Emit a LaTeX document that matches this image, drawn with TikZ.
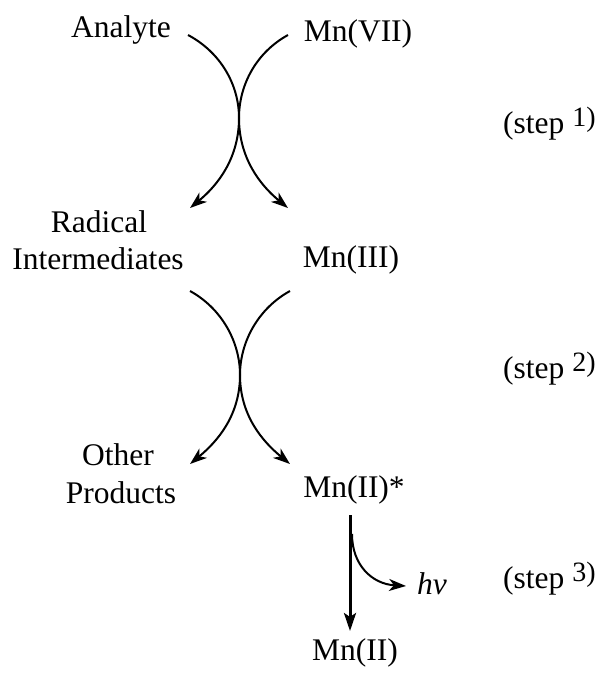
\documentclass[tikz,border=0pt]{standalone}
\usepackage{fontspec}
\setmainfont{Liberation Serif}
\newfontfamily\lserif{Liberation Serif}
\usetikzlibrary{arrows.meta}
\begin{document}
\begin{tikzpicture}[x=1pt,y=-1pt,
  lbl/.style={font=\lserif\fontsize{31.5}{36}\selectfont, inner sep=0pt, anchor=base},
  steplbl/.style={font=\lserif\fontsize{31.5}{36}\selectfont, inner sep=0pt, anchor=base west},
  rxn/.style={line width=2pt, -{Stealth[length=17pt,width=12pt,inset=5pt]}},
  vert/.style={line width=3pt, -{Stealth[length=18pt,width=12pt,inset=4pt]}}
]
\useasboundingbox (0,0) rectangle (601,675);
% species
\node[lbl] (analyte) at (121,37) {Analyte};
\node[lbl] (mn7) at (358,41) {Mn(VII)};
\node[lbl] (radical) at (99,232) {Radical};
\node[lbl] (inter) at (98,269) {Intermediates};
\node[lbl] (mn3) at (351,267) {Mn(III)};
\node[lbl] (other) at (118,465) {Other};
\node[lbl] (products) at (121,503) {Products};
\node[lbl] (mn2s) at (354,497) {Mn(II)*};
\node[lbl] (mn2) at (355,660) {Mn(II)};
\node[steplbl] (hv) at (417,594) {\itshape hv};
% step labels
\newcommand\stepsup[1]{\raisebox{7pt}{\fontsize{28}{30}\selectfont #1)}}
\node[steplbl] (s1) at (503,133) {(step \stepsup{1}};
\node[steplbl] (s2) at (503,378) {(step \stepsup{2}};
\node[steplbl] (s3) at (503,588) {(step \stepsup{3}};
% step 1 curves
\coordinate (a1) at (188,35);
\coordinate (a2) at (288,35);
\coordinate (x1) at (239,118);
\coordinate (b1) at (190,208);
\coordinate (b2) at (288,208);
\draw[rxn] (a1) .. controls (220,52) and (239,84) .. (x1) .. controls (239,158) and (218,185) .. (b1);
\draw[rxn] (a2) .. controls (257,52) and (239,84) .. (x1) .. controls (239,158) and (260,185) .. (b2);
% step 2 curves
\coordinate (c1) at (190,291);
\coordinate (c2) at (290,291);
\coordinate (x2) at (240,375);
\coordinate (d1) at (190,464);
\coordinate (d2) at (290,464);
\draw[rxn] (c1) .. controls (221,308) and (240,341) .. (x2) .. controls (240,415) and (218,441) .. (d1);
\draw[rxn] (c2) .. controls (259,308) and (240,341) .. (x2) .. controls (240,415) and (262,441) .. (d2);
% step 3
\coordinate (v1) at (350,515);
\coordinate (v2) at (350,631);
\draw[vert] (v1) -- (v2);
\coordinate (h1) at (352,534);
\coordinate (h2) at (406,586);
\draw[rxn] (h1) .. controls (352,565) and (372,584) .. (h2);
\end{tikzpicture}
\end{document}
